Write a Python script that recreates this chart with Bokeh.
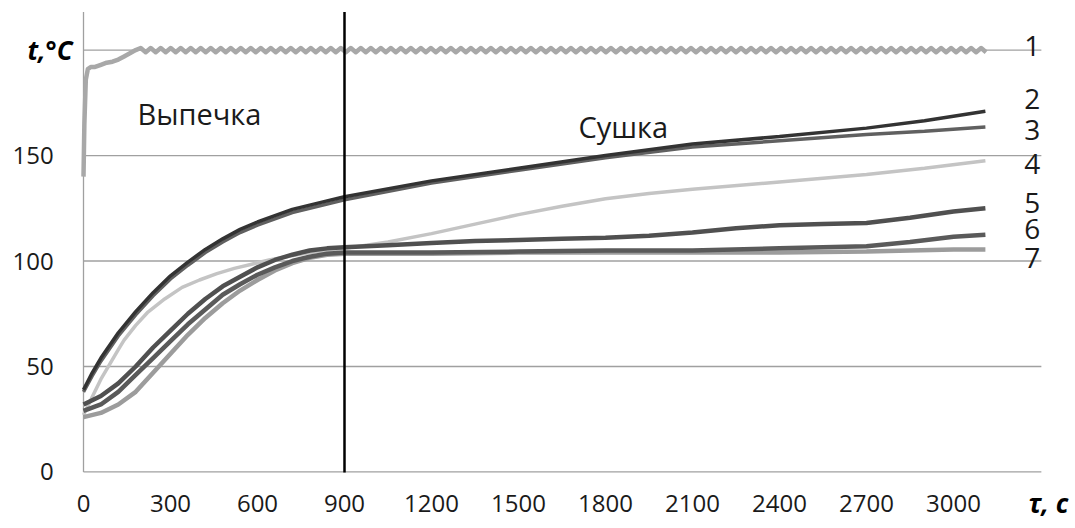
from bokeh.plotting import figure
from bokeh.models import Range1d
from bokeh.core.properties import value
from bokeh.embed import file_html
from bokeh.resources import INLINE

# ---------------- data ----------------
x_ticks = [0, 300, 600, 900, 1200, 1500, 1800, 2100, 2400, 2700, 3000]
x_tick_labels = ["0", "300", "600", "900", "1200", "1500", "1800", "2100", "2400", "2700", "3000"]
y_ticks = [0, 50, 100, 150, 200]
y_tick_labels = ["0", "50", "100", "150"]
x_axis_title = "τ, с"
y_axis_title = "t,°C"
x_max = 3303
y_max = 218

# series 1 (oven air temperature): start-up then oscillation about 200
s1_tau_head = [0, 3, 8, 15, 25, 40, 60, 80, 100, 120, 140, 160]
s1_t_head = [140, 165, 186, 191, 192, 192, 193, 194, 194.5, 195.5, 197, 198.5]
s1_wave_start = 180
s1_wave_step = 17.25
s1_wave = [200,
           201, 199, 201, 199, 201, 199, 201, 199, 201, 199,
           201, 199, 201, 199, 201, 199, 201, 199, 201, 199,
           201, 199, 201, 199, 201, 199, 201, 199, 201, 199,
           201, 199, 201, 199, 201, 199, 201, 199, 201, 199,
           201, 199, 201, 199, 201, 199, 201, 199, 201, 199,
           201, 199, 201, 199, 201, 199, 201, 199, 201, 199,
           201, 199, 201, 199, 201, 199, 201, 199, 201, 199,
           201, 199, 201, 199, 201, 199, 201, 199, 201, 199,
           201, 199, 201, 199, 201, 199, 201, 199, 201, 199,
           201, 199, 201, 199, 201, 199, 201, 199, 201, 199,
           201, 199, 201, 199, 201, 199, 201, 199, 201, 199,
           201, 199, 201, 199, 201, 199, 201, 199, 201, 199,
           201, 199, 201, 199, 201, 199, 201, 199, 201, 199,
           201, 199, 201, 199, 201, 199, 201, 199, 201, 199,
           201, 199, 201, 199, 201, 199, 201, 199, 201, 199,
           201, 199, 201, 199, 201, 199, 201, 199, 201, 199,
           201, 199, 201, 199, 201, 199, 201, 199, 201, 199]

tau_a = [0, 30, 60, 120, 180, 240, 300, 360, 420, 480, 540, 600, 660, 720, 780, 840, 900,
         1200, 1500, 1800, 2100, 2400, 2700, 2900, 3110]
t2 = [39, 47, 54, 66, 76, 85, 93, 99.5, 105.5, 110.5, 115, 118.5, 121.5, 124.5, 126.5, 128.5, 130.5,
      138, 144, 150, 155.5, 159, 163, 166.5, 171]
t3 = [38, 45.5, 52.5, 64.5, 74.5, 83.5, 91.5, 98, 104, 109, 113.5, 117, 120, 123, 125, 127, 129,
      137, 143, 149, 154, 157, 160, 161.5, 163.5]

tau4 = [0, 30, 60, 90, 120, 140, 180, 220, 280, 340, 400, 460, 520, 580, 640, 700, 780, 840, 900,
        1050, 1200, 1350, 1500, 1650, 1800, 1950, 2100, 2400, 2700, 2900, 3110]
t4 = [27, 35.5, 44, 51, 58, 62.5, 69.5, 75.5, 82, 87.5, 91, 94, 96.5, 98.5, 100.5, 102, 104, 105, 106,
      109, 113, 117.5, 122, 126, 129.5, 132, 134, 137.5, 141, 144, 147.5]

tau5 = [0, 60, 120, 180, 240, 300, 360, 420, 480, 540, 600, 660, 720, 780, 840, 900,
        1050, 1200, 1350, 1500, 1650, 1800, 1950, 2100, 2250, 2400, 2550, 2700, 2850, 3000, 3110]
t5 = [32, 36, 42, 50, 59, 67, 75, 82, 88, 92.5, 97, 100.5, 103, 105, 106, 106.5,
      107.5, 108.5, 109.5, 110, 110.5, 111, 112, 113.5, 115.5, 117, 117.5, 118, 120.5, 123.5, 125]

tau6 = [0, 60, 120, 180, 240, 300, 360, 420, 480, 540, 600, 660, 720, 780, 840, 900,
        1200, 1500, 1800, 2100, 2400, 2700, 2850, 3000, 3110]
t6 = [29, 32, 38, 46, 54, 62, 70, 77, 84, 89, 93.5, 97, 100, 102, 103.5, 104,
      104, 104.5, 105, 105, 106, 107, 109, 111.5, 112.5]

tau7 = [0, 60, 120, 180, 240, 300, 360, 420, 480, 540, 600, 660, 720, 780, 840, 900,
        1200, 1500, 1800, 2100, 2400, 2700, 3000, 3110]
t7 = [26, 28, 32, 38, 47, 56, 65, 73, 80, 86, 91, 95.5, 99, 101.5, 103, 103.5,
      103.5, 104, 104, 104, 104, 104.5, 105.5, 105.5]

series_names = ["1", "2", "3", "4", "5", "6", "7"]
series_label_t = [202, 177, 162, 146, 127.7, 115.4, 101.2]
series_label_tau = 3272
stage_boundary = 900
stage_names = ["Выпечка", "Сушка"]
stage_label_tau = [186, 1707]
stage_label_t = [170, 164]

# ---------------- figure (frame covers the whole canvas) ----------------
p = figure(width=1075, height=528, output_backend="svg", toolbar_location=None,
           x_range=Range1d(-286.2, 3420.7), y_range=Range1d(-26.8, 223.5),
           min_border=0, min_border_left=0, min_border_right=0,
           min_border_top=0, min_border_bottom=0)
p.axis.visible = False
p.grid.visible = False
p.outline_line_color = None
p.background_fill_color = "white"
p.border_fill_color = "white"

font = value("Open Sans")

# horizontal grid lines
p.segment(x0=[0] * len(y_ticks), y0=y_ticks, x1=[x_max] * len(y_ticks), y1=y_ticks,
          line_color="#a0a0a0", line_width=1.3)
# left axis line
p.segment(x0=[0], y0=[0], x1=[0], y1=[y_max], line_color="#a0a0a0", line_width=1.3)

# series lines
s1_tau = s1_tau_head + [s1_wave_start + i * s1_wave_step for i in range(len(s1_wave))]
s1_t = s1_t_head + s1_wave
p.line(s1_tau, s1_t, line_color="#a8a8a8", line_width=4.5, line_join="round")
p.line(tau4, t4, line_color="#c4c4c4", line_width=3.5)
p.line(tau7, t7, line_color="#9c9c9c", line_width=4.5)
p.line(tau6, t6, line_color="#5a5a5a", line_width=4.5)
p.line(tau5, t5, line_color="#505050", line_width=4.5)
p.line(tau_a, t3, line_color="#606060", line_width=3.5)
p.line(tau_a, t2, line_color="#333333", line_width=3.5)

# boundary between baking and drying
p.segment(x0=[stage_boundary], y0=[-0.3], x1=[stage_boundary], y1=[y_max],
          line_color="#000000", line_width=2.5)

# tick labels
p.text(x=x_ticks, y=[-14.9] * len(x_ticks), text=x_tick_labels, text_font=font,
       text_font_size="24px", text_align="center", text_baseline="middle", text_color="#1a1a1a")
p.text(x=[-103] * len(y_tick_labels), y=y_ticks[:len(y_tick_labels)], text=y_tick_labels,
       text_font=font, text_font_size="24px", text_align="right", text_baseline="middle",
       text_color="#1a1a1a")

# axis titles
p.text(x=[-193], y=[200], text=[y_axis_title], text_font=font, text_font_size="26px",
       text_font_style="bold italic", text_align="left", text_baseline="middle", text_color="#000000")
p.text(x=[3259], y=[-14.9], text=[x_axis_title], text_font=font, text_font_size="26px",
       text_font_style="bold italic", text_align="left", text_baseline="middle", text_color="#000000")

# stage names
p.text(x=stage_label_tau, y=stage_label_t, text=stage_names, text_font=font, text_font_size="29px",
       text_align="left", text_baseline="middle", text_color="#1a1a1a")

# series numbers
p.text(x=[series_label_tau] * len(series_names), y=series_label_t, text=series_names, text_font=font,
       text_font_size="28px", text_align="center", text_baseline="middle", text_color="#1a1a1a")

open("out.html", "w").write(file_html(p, INLINE))
